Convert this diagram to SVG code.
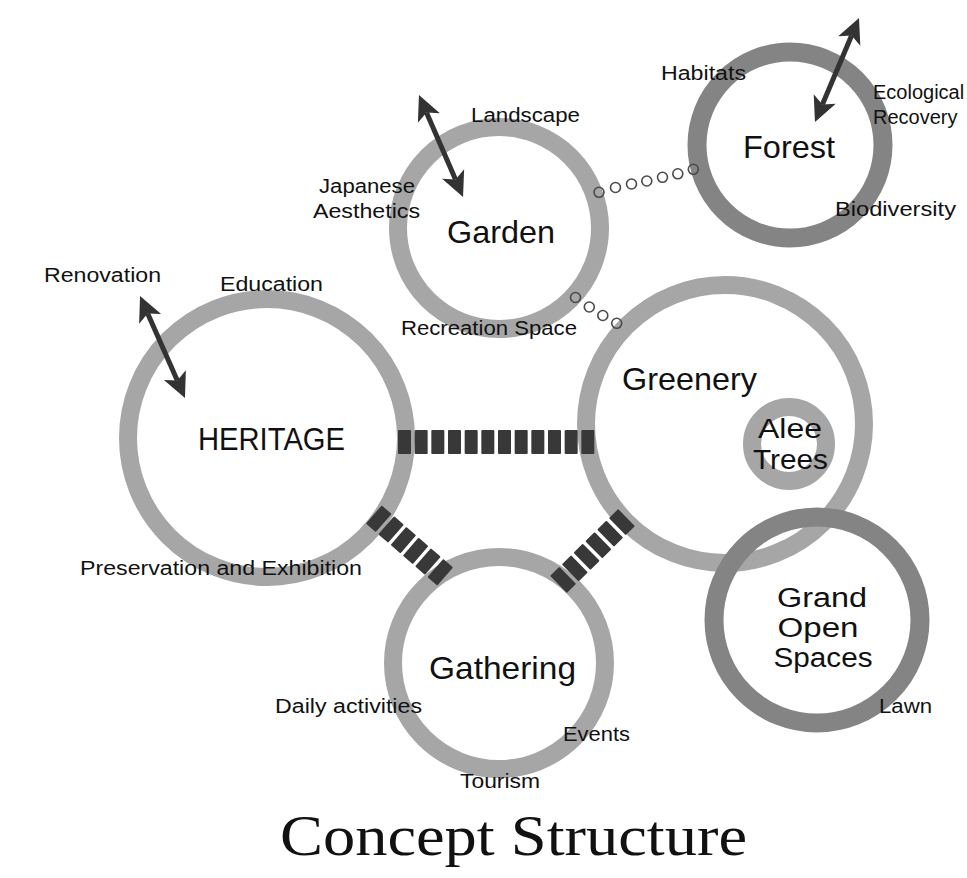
<svg xmlns="http://www.w3.org/2000/svg" width="967" height="878" viewBox="0 0 967 878">
  <defs>
    <style>
      .ring { fill: none; stroke: #a6a6a6; stroke-width: 18; }
      .ring-dark { fill: none; stroke: #848484; stroke-width: 19; }
      .block { fill: #383838; }
      .dot { fill: none; stroke: #4a4a4a; stroke-width: 1.6; }
      .arrow { stroke: #333333; stroke-width: 5; fill: none; marker-start: url(#head); marker-end: url(#head); }
      .lbl { font-family: "Liberation Sans", Arial, sans-serif; font-size: 20px; fill: #111111; }
      .title { font-family: "Liberation Sans", Arial, sans-serif; font-size: 32px; fill: #111111; }
      .stack { font-family: "Liberation Sans", Arial, sans-serif; font-size: 27px; fill: #111111; }
      .caption { font-family: "Liberation Serif", "Times New Roman", serif; font-size: 58px; fill: #111111; }
    </style>
    <marker id="head" viewBox="-8 -13 30 26" refX="0" refY="0" markerWidth="30" markerHeight="26" markerUnits="userSpaceOnUse" orient="auto-start-reverse">
      <path d="M19,0 L-6,-12 L0,0 L-6,12 Z" fill="#333333"/>
    </marker>
  </defs>

  <rect width="967" height="878" fill="#ffffff"/>

  <!-- rings -->
  <g id="greenery">
    <circle class="ring" cx="725" cy="424" r="139"/>
  </g>
  <g id="grand-open-spaces">
    <circle class="ring-dark" cx="817" cy="620" r="103"/>
  </g>
  <g id="alee-trees">
    <circle class="ring" cx="789" cy="444" r="37" stroke-width="19"/>
  </g>
  <g id="heritage">
    <circle class="ring" cx="267" cy="438" r="139"/>
  </g>
  <g id="garden">
    <circle class="ring" cx="499" cy="228" r="101"/>
  </g>
  <g id="forest">
    <circle class="ring-dark" cx="790" cy="145" r="93" stroke-width="20"/>
  </g>
  <g id="gathering">
    <circle class="ring" cx="499" cy="663" r="106"/>
  </g>

  <!-- connectors -->
  <g id="connectors">
    <!-- heritage to greenery: strong link -->
    <g transform="translate(398,430)">
      <rect class="block" x="0" y="0" width="13" height="24" rx="1"/>
      <rect class="block" x="16.67" y="0" width="13" height="24" rx="1"/>
      <rect class="block" x="33.33" y="0" width="13" height="24" rx="1"/>
      <rect class="block" x="50" y="0" width="13" height="24" rx="1"/>
      <rect class="block" x="66.67" y="0" width="13" height="24" rx="1"/>
      <rect class="block" x="83.33" y="0" width="13" height="24" rx="1"/>
      <rect class="block" x="100" y="0" width="13" height="24" rx="1"/>
      <rect class="block" x="116.67" y="0" width="13" height="24" rx="1"/>
      <rect class="block" x="133.33" y="0" width="13" height="24" rx="1"/>
      <rect class="block" x="150" y="0" width="13" height="24" rx="1"/>
      <rect class="block" x="166.67" y="0" width="13" height="24" rx="1"/>
      <rect class="block" x="183.33" y="0" width="13" height="24" rx="1"/>
    </g>
    <!-- heritage to gathering -->
    <g transform="translate(409.5,545.5) rotate(41)">
      <rect class="block" x="-47.25" y="-12" width="13" height="24" rx="1"/>
      <rect class="block" x="-30.95" y="-12" width="13" height="24" rx="1"/>
      <rect class="block" x="-14.65" y="-12" width="13" height="24" rx="1"/>
      <rect class="block" x="1.65" y="-12" width="13" height="24" rx="1"/>
      <rect class="block" x="17.95" y="-12" width="13" height="24" rx="1"/>
      <rect class="block" x="34.25" y="-12" width="13" height="24" rx="1"/>
    </g>
    <!-- gathering to greenery -->
    <g transform="translate(592.5,551) rotate(-44.5)">
      <rect class="block" x="-47.75" y="-12" width="13" height="24" rx="1"/>
      <rect class="block" x="-31.25" y="-12" width="13" height="24" rx="1"/>
      <rect class="block" x="-14.75" y="-12" width="13" height="24" rx="1"/>
      <rect class="block" x="1.75" y="-12" width="13" height="24" rx="1"/>
      <rect class="block" x="18.25" y="-12" width="13" height="24" rx="1"/>
      <rect class="block" x="34.75" y="-12" width="13" height="24" rx="1"/>
    </g>
    <!-- garden to forest: weak link -->
    <circle class="dot" cx="599" cy="192.3" r="5"/>
    <circle class="dot" cx="615.5" cy="187.5" r="5"/>
    <circle class="dot" cx="631.5" cy="184" r="5"/>
    <circle class="dot" cx="646.8" cy="181" r="5"/>
    <circle class="dot" cx="662.5" cy="177.3" r="5"/>
    <circle class="dot" cx="677.8" cy="173.8" r="5"/>
    <circle class="dot" cx="693.3" cy="169.3" r="5"/>
    <!-- garden to greenery: weak link -->
    <circle class="dot" cx="575.5" cy="297.5" r="5"/>
    <circle class="dot" cx="589.3" cy="307" r="5"/>
    <circle class="dot" cx="602.8" cy="315.5" r="5"/>
    <circle class="dot" cx="616.7" cy="323.3" r="5"/>
    <!-- two-way arrows -->
    <line class="arrow" x1="426.5" y1="112.4" x2="455.5" y2="179.6"/>
    <line class="arrow" x1="147.7" y1="313.4" x2="177.3" y2="380.6"/>
    <line class="arrow" x1="851.6" y1="35.5" x2="822.4" y2="104.5"/>
  </g>

  <!-- labels -->
  <g id="garden-text">
    <text class="title" x="447" y="243" textLength="108" lengthAdjust="spacingAndGlyphs">Garden</text>
    <text class="lbl" x="471" y="122" textLength="109" lengthAdjust="spacingAndGlyphs">Landscape</text>
    <text class="lbl" x="367" y="193" text-anchor="middle" textLength="96" lengthAdjust="spacingAndGlyphs">Japanese</text>
    <text class="lbl" x="366.5" y="218" text-anchor="middle" textLength="107" lengthAdjust="spacingAndGlyphs">Aesthetics</text>
    <text class="lbl" x="401" y="335" textLength="176" lengthAdjust="spacingAndGlyphs">Recreation Space</text>
  </g>
  <g id="forest-text">
    <text class="title" x="743" y="158" textLength="92" lengthAdjust="spacingAndGlyphs">Forest</text>
    <text class="lbl" x="661" y="80" textLength="85" lengthAdjust="spacingAndGlyphs">Habitats</text>
    <text class="lbl" x="873" y="99" font-size="21">Ecological</text>
    <text class="lbl" x="873" y="124" font-size="21">Recovery</text>
    <text class="lbl" x="835" y="216" textLength="121" lengthAdjust="spacingAndGlyphs">Biodiversity</text>
  </g>
  <g id="heritage-text">
    <text class="title" x="198" y="450" textLength="147" lengthAdjust="spacingAndGlyphs">HERITAGE</text>
    <text class="lbl" x="44" y="282" textLength="117" lengthAdjust="spacingAndGlyphs">Renovation</text>
    <text class="lbl" x="220" y="291" textLength="103" lengthAdjust="spacingAndGlyphs">Education</text>
    <text class="lbl" x="80" y="575" textLength="282" lengthAdjust="spacingAndGlyphs">Preservation and Exhibition</text>
  </g>
  <g id="greenery-text">
    <text class="title" x="622" y="390" textLength="135" lengthAdjust="spacingAndGlyphs">Greenery</text>
    <text class="stack" x="790" y="438" text-anchor="middle" textLength="64" lengthAdjust="spacingAndGlyphs">Alee</text>
    <text class="stack" x="790.5" y="469" text-anchor="middle" textLength="75" lengthAdjust="spacingAndGlyphs">Trees</text>
  </g>
  <g id="grand-open-spaces-text">
    <text class="stack" x="822" y="607" text-anchor="middle" textLength="90" lengthAdjust="spacingAndGlyphs">Grand</text>
    <text class="stack" x="818" y="637" text-anchor="middle" textLength="81" lengthAdjust="spacingAndGlyphs">Open</text>
    <text class="stack" x="823" y="667" text-anchor="middle" textLength="99" lengthAdjust="spacingAndGlyphs">Spaces</text>
    <text class="lbl" x="879" y="713" textLength="53" lengthAdjust="spacingAndGlyphs">Lawn</text>
  </g>
  <g id="gathering-text">
    <text class="title" x="429" y="679" textLength="147" lengthAdjust="spacingAndGlyphs">Gathering</text>
    <text class="lbl" x="275" y="713" textLength="147" lengthAdjust="spacingAndGlyphs">Daily activities</text>
    <text class="lbl" x="563" y="741" textLength="67" lengthAdjust="spacingAndGlyphs">Events</text>
    <text class="lbl" x="460" y="788" textLength="80" lengthAdjust="spacingAndGlyphs">Tourism</text>
  </g>

  <text id="caption" class="caption" x="280" y="855" textLength="467" lengthAdjust="spacingAndGlyphs">Concept Structure</text>
</svg>
